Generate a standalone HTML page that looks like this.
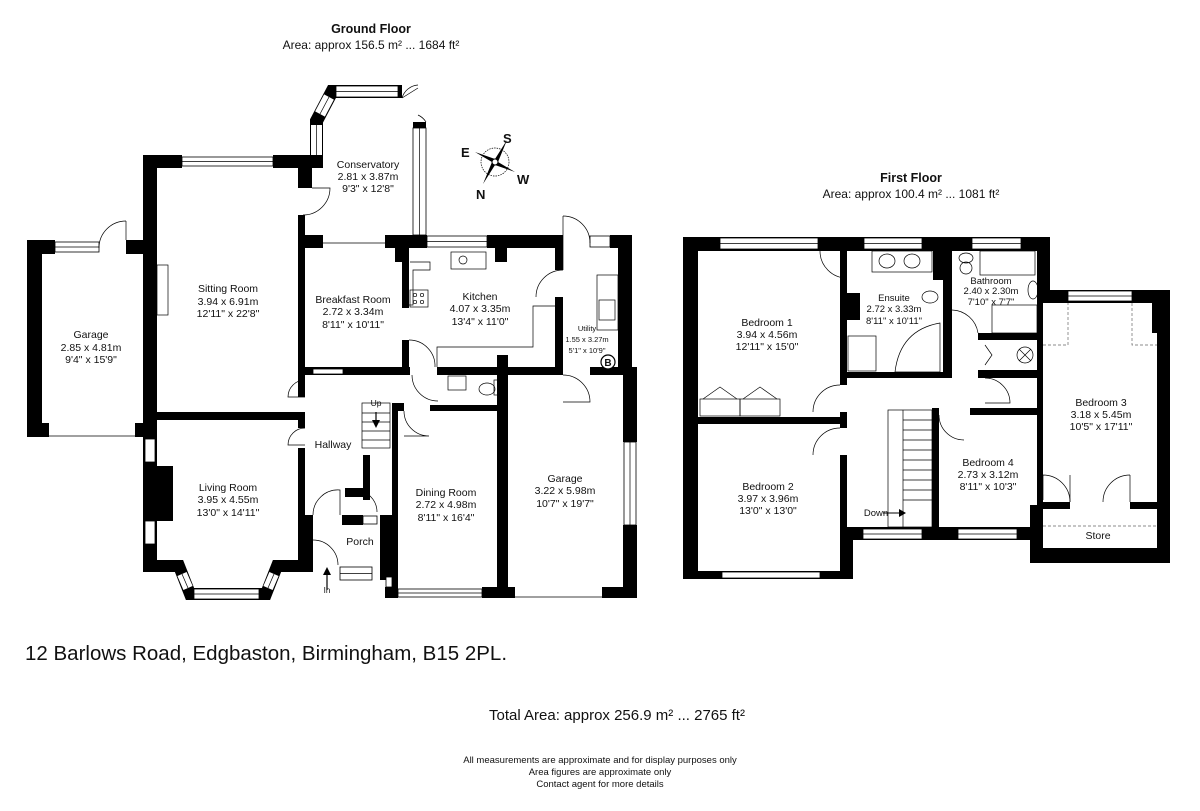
<!DOCTYPE html>
<html><head><meta charset="utf-8"><style>
html,body{margin:0;padding:0;background:#fff;width:1200px;height:811px;overflow:hidden}
svg{display:block}
text{font-family:"Liberation Sans",Arial,sans-serif;fill:#111}
.l{font-size:10.5px;text-anchor:middle}
.s{font-size:9.5px;text-anchor:middle}
.w{fill:#fff;stroke:#000;stroke-width:0.8}
.thin{fill:none;stroke:#000;stroke-width:0.7}
</style></head><body>
<svg width="1200" height="811" viewBox="0 0 1200 811" xmlns="http://www.w3.org/2000/svg">
<rect width="1200" height="811" fill="#fff"/>
<text x="371" y="33" font-size="12.5" font-weight="bold" text-anchor="middle">Ground Floor</text>
<text x="371" y="49" font-size="12" text-anchor="middle">Area: approx 156.5 m² ... 1684 ft²</text>
<text x="911" y="182" font-size="12.5" font-weight="bold" text-anchor="middle">First Floor</text>
<text x="911" y="198" font-size="12" text-anchor="middle">Area: approx 100.4 m² ... 1081 ft²</text>

<g fill="#000">
<rect x="27" y="240" width="15" height="197"/>
<rect x="27" y="240" width="28" height="14"/>
<rect x="126" y="240" width="17" height="14"/>
<rect x="27" y="423" width="22" height="14"/>
<rect x="135" y="423" width="8" height="14"/>
<rect x="143" y="155" width="14" height="417"/>
<rect x="143" y="155" width="39" height="13"/>
<rect x="273" y="155" width="50" height="13"/>
<rect x="298" y="155" width="14" height="33"/>
<rect x="298" y="215" width="7" height="165"/>
<rect x="298" y="235" width="25" height="13"/>
<rect x="298" y="380" width="7" height="17"/>
<rect x="157" y="412" width="148" height="8"/>
<rect x="298" y="412" width="7" height="16"/>
<rect x="157" y="466" width="16" height="55"/>
<rect x="298" y="448" width="7" height="112"/>
<rect x="305" y="515" width="8" height="57"/>
<rect x="385" y="235" width="42" height="13"/>
<rect x="487" y="235" width="76" height="13"/>
<rect x="495" y="248" width="12" height="14"/>
<rect x="395" y="248" width="8" height="14"/>
<rect x="402" y="248" width="7" height="60"/>
<rect x="402" y="340" width="7" height="35"/>
<rect x="555" y="248" width="8" height="22"/>
<rect x="555" y="297" width="8" height="78"/>
<rect x="305" y="367" width="105" height="8"/>
<rect x="437" y="367" width="126" height="8"/>
<rect x="497" y="355" width="11" height="20"/>
<rect x="610" y="235" width="22" height="13"/>
<rect x="618" y="235" width="14" height="140"/>
<rect x="590" y="367" width="47" height="8"/>
<rect x="623" y="367" width="14" height="75"/>
<rect x="623" y="525" width="14" height="73"/>
<rect x="497" y="375" width="11" height="223"/>
<rect x="430" y="405" width="67" height="6"/>
<rect x="392" y="403" width="6" height="184"/>
<rect x="398" y="403" width="6" height="8"/>
<rect x="385" y="587" width="13" height="11"/>
<rect x="482" y="587" width="33" height="11"/>
<rect x="602" y="587" width="35" height="11"/>
<rect x="363" y="455" width="7" height="45"/>
<rect x="345" y="488" width="25" height="9"/>
<rect x="342" y="515" width="21" height="10"/>
<rect x="380" y="515" width="12" height="65"/>
<rect x="413" y="122" width="13" height="6"/>
</g>
<!-- living bay -->
<path d="M150,566 L179,566 L190,594 L266,594 L277,566 L305,566" fill="none" stroke="#000" stroke-width="12" stroke-linejoin="miter"/>
<line x1="182" y1="574" x2="188" y2="588" stroke="#fff" stroke-width="10"/>
<line x1="182" y1="574" x2="188" y2="588" stroke="#000" stroke-width="0.7"/>
<line x1="274" y1="574" x2="268" y2="588" stroke="#fff" stroke-width="10"/>
<line x1="274" y1="574" x2="268" y2="588" stroke="#000" stroke-width="0.7"/>
<rect class="w" x="194" y="589" width="65" height="10"/><line class="thin" x1="194" y1="594" x2="259" y2="594"/>
<!-- conservatory bay -->
<path d="M316.5,160 L316.5,121 L332,91.5 L402,91.5" fill="none" stroke="#000" stroke-width="13" stroke-linejoin="miter"/>
<line x1="316.5" y1="125" x2="316.5" y2="155" stroke="#fff" stroke-width="11"/>
<line x1="316.5" y1="125" x2="316.5" y2="155" stroke="#000" stroke-width="0.7"/>
<line x1="320" y1="114" x2="329" y2="97" stroke="#fff" stroke-width="11"/>
<line x1="320" y1="114" x2="329" y2="97" stroke="#000" stroke-width="0.7"/>
<rect class="w" x="336" y="86" width="62" height="11"/><line class="thin" x1="336" y1="91.5" x2="398" y2="91.5"/>
<g>
<rect class="w" x="55" y="242" width="44" height="10"/><line class="thin" x1="55" y1="247" x2="99" y2="247"/>
<rect class="w" x="182" y="157" width="91" height="9"/><line class="thin" x1="182" y1="161.5" x2="273" y2="161.5"/>
<rect class="w" x="145" y="439" width="10" height="23"/><rect class="w" x="145" y="521" width="10" height="23"/>
<rect class="w" x="413" y="128" width="13" height="107"/><line class="thin" x1="419.5" y1="128" x2="419.5" y2="235"/>
<rect class="w" x="427" y="236" width="60" height="11"/><line class="thin" x1="427" y1="241.5" x2="487" y2="241.5"/>
<rect class="w" x="590" y="236" width="20" height="11"/>
<rect class="w" x="313" y="369" width="30" height="5"/>
<rect class="w" x="624" y="442" width="12" height="83"/><line class="thin" x1="630" y1="442" x2="630" y2="525"/>
<rect class="w" x="398" y="589" width="84" height="8"/><line class="thin" x1="398" y1="593" x2="482" y2="593"/>
<rect class="w" x="386" y="577" width="6" height="10"/>
<rect class="w" x="340" y="567" width="32" height="13"/><line class="thin" x1="340" y1="573.5" x2="372" y2="573.5"/>
<rect class="w" x="363" y="516" width="14" height="8"/>
</g>
<g class="thin">
<line x1="49" y1="436" x2="135" y2="436"/>
<line x1="515" y1="597" x2="602" y2="597"/>
<rect x="157" y="265" width="11" height="50"/>
<path d="M126,221 A27,27 0 0 0 99,248"/><line x1="126" y1="221" x2="126" y2="240"/>
<path d="M312,188 L330,188 A27,27 0 0 1 303,215"/>
<line x1="323" y1="243" x2="385" y2="243"/>
<path d="M305,380 A17,17 0 0 0 288,397 L305,397"/>
<path d="M305,428 A17,17 0 0 0 288,445 L305,445"/>
<path d="M409,340 A26,26 0 0 1 435,367"/>
<path d="M563,270 A27,27 0 0 0 536,297"/><line x1="563" y1="270" x2="563" y2="216"/>
<path d="M563,216 A27,27 0 0 1 590,243"/>
<path d="M563,375 A27,27 0 0 1 590,402 L563,402"/>
<path d="M412,375 A26,26 0 0 0 438,401"/>
<path d="M404,411 A25,25 0 0 0 429,436 L404,436"/>
<path d="M313,515 A25,25 0 0 1 340,490 L340,515"/>
<path d="M355,490 A22,22 0 0 1 377,512"/>
<path d="M313,540 A25,25 0 0 1 338,565"/>
<path d="M402,98 L418,88 M402,98 A18,18 0 0 1 418,85 M418,115 A18,18 0 0 1 426,122"/>
<rect x="362" y="403" width="28" height="45"/>
<line x1="362" y1="413" x2="390" y2="413"/><line x1="362" y1="422" x2="390" y2="422"/><line x1="362" y1="431" x2="390" y2="431"/><line x1="362" y1="440" x2="390" y2="440"/>
<path d="M410,262 L430,262 L430,270 L413,270 L413,305 L409,305"/>
<path d="M437,367 L437,347 L533,347 L533,306 L555,306"/>
<rect x="451" y="252" width="35" height="17"/><circle cx="463" cy="260" r="4"/>
<rect x="410" y="290" width="18" height="17"/>
<circle cx="415" cy="295" r="1.7"/><circle cx="422" cy="295" r="1.7"/><circle cx="415" cy="302" r="1.7"/><circle cx="422" cy="302" r="1.7"/>
<rect x="597" y="275" width="21" height="55"/><rect x="599" y="300" width="16" height="20"/>
<rect x="448" y="376" width="18" height="14"/>
<ellipse cx="487" cy="389" rx="8" ry="6"/><rect x="494" y="380" width="4" height="15"/>
</g>
<line x1="376" y1="412" x2="376" y2="424" stroke="#000" stroke-width="1.2"/><polygon points="372,420 380,420 376,428" fill="#000"/>
<line x1="327" y1="590" x2="327" y2="572" stroke="#000" stroke-width="1.2"/><polygon points="323,575 331,575 327,567" fill="#000"/>
<circle cx="608" cy="362" r="7" fill="#fff" stroke="#000" stroke-width="1.2"/>
<text x="608" y="366" font-size="10" font-weight="bold" text-anchor="middle">B</text>
<g transform="translate(495,162)">
<circle r="14" fill="none" stroke="#000" stroke-width="0.7" stroke-dasharray="1.5,1"/>
<polygon points="0,-3 12,-22 3,0 20,10 0,3 -12,22 -3,0 -20,-10" fill="#000"/>
<circle r="3" fill="#fff" stroke="#000"/>
</g>
<g font-family="Liberation Serif,serif" font-weight="bold" font-size="13">
<text x="503" y="143">S</text><text x="461" y="157">E</text><text x="517" y="184">W</text><text x="476" y="199">N</text>
</g>
<g>
<text class="l" x="368" y="168">Conservatory</text><text class="l" x="368" y="180">2.81 x 3.87m</text><text class="l" x="368" y="192">9'3" x 12'8"</text>
<text class="l" x="228" y="292">Sitting Room</text><text class="l" x="228" y="305">3.94 x 6.91m</text><text class="l" x="228" y="317">12'11" x 22'8"</text>
<text class="l" x="91" y="338">Garage</text><text class="l" x="91" y="351">2.85 x 4.81m</text><text class="l" x="91" y="363">9'4" x 15'9"</text>
<text class="l" x="353" y="303">Breakfast Room</text><text class="l" x="353" y="315">2.72 x 3.34m</text><text class="l" x="353" y="328">8'11" x 10'11"</text>
<text class="l" x="480" y="300">Kitchen</text><text class="l" x="480" y="312">4.07 x 3.35m</text><text class="l" x="480" y="325">13'4" x 11'0"</text>
<text x="587" y="331" font-size="7.5" text-anchor="middle">Utility</text><text x="587" y="342" font-size="7.5" text-anchor="middle">1.55 x 3.27m</text><text x="587" y="353" font-size="7.5" text-anchor="middle">5'1" x 10'9"</text>
<text class="l" x="333" y="448">Hallway</text>
<text x="376" y="406" font-size="8.5" text-anchor="middle">Up</text>
<text class="l" x="228" y="491">Living Room</text><text class="l" x="228" y="503">3.95 x 4.55m</text><text class="l" x="228" y="516">13'0" x 14'11"</text>
<text class="l" x="446" y="496">Dining Room</text><text class="l" x="446" y="508">2.72 x 4.98m</text><text class="l" x="446" y="521">8'11" x 16'4"</text>
<text class="l" x="565" y="482">Garage</text><text class="l" x="565" y="494">3.22 x 5.98m</text><text class="l" x="565" y="507">10'7" x 19'7"</text>
<text class="l" x="360" y="545">Porch</text>
<text x="327" y="593" font-size="8" text-anchor="middle">In</text>
</g>

<!-- FIRST FLOOR -->
<g fill="#000">
<rect x="683" y="237" width="15" height="342"/>
<rect x="683" y="237" width="367" height="14"/>
<rect x="683" y="571" width="170" height="8"/>
<rect x="840" y="251" width="7" height="134"/>
<rect x="847" y="293" width="13" height="27"/>
<rect x="840" y="372" width="112" height="6"/>
<rect x="933" y="251" width="19" height="29"/>
<rect x="943" y="280" width="9" height="98"/>
<rect x="1037" y="237" width="13" height="66"/>
<rect x="1037" y="290" width="133" height="13"/>
<rect x="1152" y="290" width="18" height="43"/>
<rect x="1157" y="290" width="13" height="273"/>
<rect x="1030" y="548" width="140" height="15"/>
<rect x="1030" y="505" width="13" height="58"/>
<rect x="1043" y="502" width="27" height="7"/>
<rect x="1130" y="502" width="27" height="7"/>
<rect x="978" y="333" width="65" height="7"/>
<rect x="978" y="370" width="65" height="8"/>
<rect x="1037" y="303" width="6" height="245"/>
<rect x="698" y="417" width="149" height="7"/>
<rect x="840" y="412" width="7" height="16"/>
<rect x="840" y="455" width="7" height="124"/>
<rect x="840" y="527" width="13" height="52"/>
<rect x="847" y="527" width="190" height="13"/>
<rect x="932" y="408" width="7" height="132"/>
<rect x="970" y="408" width="73" height="7"/>
</g>
<g>
<rect class="w" x="720" y="238" width="98" height="11"/><line class="thin" x1="720" y1="243.5" x2="818" y2="243.5"/>
<rect class="w" x="864" y="238" width="58" height="11"/><line class="thin" x1="864" y1="243.5" x2="922" y2="243.5"/>
<rect class="w" x="972" y="238" width="49" height="11"/><line class="thin" x1="972" y1="243.5" x2="1021" y2="243.5"/>
<rect class="w" x="1068" y="291" width="64" height="10"/><line class="thin" x1="1068" y1="296" x2="1132" y2="296"/>
<rect class="w" x="722" y="572" width="98" height="6"/>
<rect class="w" x="863" y="529" width="59" height="10"/><line class="thin" x1="863" y1="534" x2="922" y2="534"/>
<rect class="w" x="958" y="529" width="59" height="10"/><line class="thin" x1="958" y1="534" x2="1017" y2="534"/>
</g>
<g class="thin">
<rect x="888" y="410" width="44" height="117"/>
<line x1="903" y1="410" x2="903" y2="527"/>
<path d="M903,420 H932 M903,430 H932 M903,440 H932 M903,450 H932 M903,460 H932 M903,470 H932 M903,480 H932 M903,490 H932 M903,500 H932"/>
<path d="M820,251 A27,27 0 0 0 847,278"/>
<path d="M840,385 A27,27 0 0 0 813,412"/>
<path d="M840,428 A27,27 0 0 0 813,455"/>
<path d="M939,415 A25,25 0 0 0 964,440"/>
<path d="M985,378 A25,25 0 0 1 1010,403 L985,403"/>
<path d="M952,310 A27,27 0 0 1 978,333"/>
<path d="M985,345 L992,355 L985,365"/>
<rect x="700" y="399" width="40" height="17"/><rect x="740" y="399" width="40" height="17"/>
<path d="M703,399 L720,387 L737,399 M743,399 L760,387 L777,399"/>
<rect x="872" y="251" width="60" height="21"/><ellipse cx="887" cy="261" rx="8" ry="7"/><ellipse cx="912" cy="261" rx="8" ry="7"/>
<ellipse cx="930" cy="297" rx="8" ry="6"/>
<rect x="848" y="336" width="28" height="35"/>
<path d="M895,372 Q900,330 940,323 L940,372 Z"/>
<rect x="980" y="251" width="55" height="24"/><ellipse cx="966" cy="258" rx="7" ry="5"/><ellipse cx="966" cy="268" rx="6" ry="6"/>
<ellipse cx="1033" cy="290" rx="5" ry="9"/>
<rect x="992" y="305" width="45" height="28"/>
<circle cx="1025" cy="355" r="8"/><path d="M1019,349 L1031,361 M1031,349 L1019,361"/>
<path d="M1043,500 L1043,475 A27,27 0 0 1 1070,502 M1130,475 A27,27 0 0 0 1103,502"/>
<line x1="1070" y1="475" x2="1070" y2="502"/><line x1="1130" y1="475" x2="1130" y2="502"/>
</g>
<g stroke="#666" stroke-width="0.7" fill="none" stroke-dasharray="3,2">
<path d="M1043,345 L1068,345 L1068,303"/>
<path d="M1132,303 L1132,345 L1157,345"/>
<line x1="1043" y1="526" x2="1157" y2="526"/>
</g>
<line x1="883" y1="513" x2="903" y2="513" stroke="#000" stroke-width="1"/><polygon points="899,509 906,513 899,517" fill="#000"/>
<g>
<text class="l" x="767" y="326">Bedroom 1</text><text class="l" x="767" y="338">3.94 x 4.56m</text><text class="l" x="767" y="350">12'11" x 15'0"</text>
<text class="s" x="894" y="301">Ensuite</text><text class="s" x="894" y="312">2.72 x 3.33m</text><text class="s" x="894" y="324">8'11" x 10'11"</text>
<text class="s" x="991" y="284">Bathroom</text><text class="s" x="991" y="294">2.40 x 2.30m</text><text class="s" x="991" y="305">7'10" x 7'7"</text>
<text class="l" x="1101" y="406">Bedroom 3</text><text class="l" x="1101" y="418">3.18 x 5.45m</text><text class="l" x="1101" y="430">10'5" x 17'11"</text>
<text class="l" x="768" y="490">Bedroom 2</text><text class="l" x="768" y="502">3.97 x 3.96m</text><text class="l" x="768" y="514">13'0" x 13'0"</text>
<text class="l" x="988" y="466">Bedroom 4</text><text class="l" x="988" y="478">2.73 x 3.12m</text><text class="l" x="988" y="490">8'11" x 10'3"</text>
<text class="s" x="876" y="516">Down</text>
<text class="l" x="1098" y="539">Store</text>
</g>

<text x="25" y="660" font-size="20.5">12 Barlows Road, Edgbaston, Birmingham, B15 2PL.</text>
<text x="617" y="720" font-size="15" text-anchor="middle">Total Area: approx 256.9 m² ... 2765 ft²</text>
<text x="600" y="763" font-size="9.5" text-anchor="middle">All measurements are approximate and for display purposes only</text>
<text x="600" y="775" font-size="9.5" text-anchor="middle">Area figures are approximate only</text>
<text x="600" y="787" font-size="9.5" text-anchor="middle">Contact agent for more details</text>
</svg>
</body></html>
